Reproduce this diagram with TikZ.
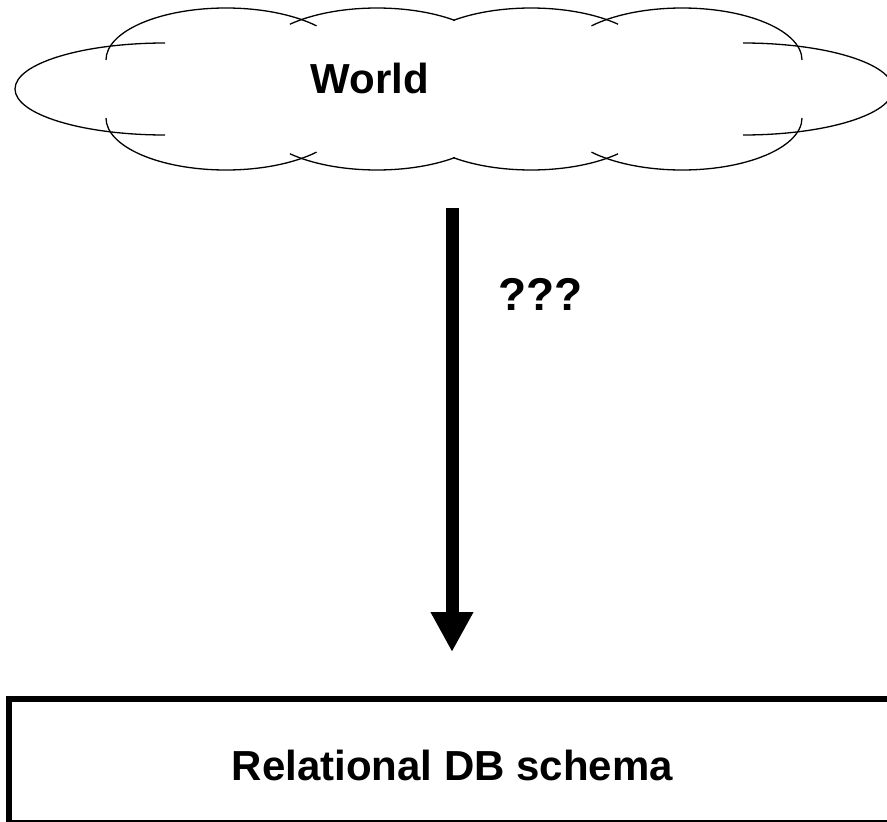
\documentclass[tikz,border=0pt]{standalone}
\usepackage{fontspec}
\setmainfont{Liberation Sans}
\usetikzlibrary{arrows.meta}

\begin{document}
\begin{tikzpicture}[x=1pt,y=1pt,
    cloudline/.style={draw=black,line width=1.3pt},
    bigtext/.style={font=\fontsize{42}{48}\selectfont\bfseries,inner sep=0pt},
    schemabox/.style={draw=black,line width=6pt,inner sep=0pt,minimum width=888pt,text height=81.5pt,text depth=43pt},
    bigarrow/.style={line width=13pt,-{Triangle[length=40pt,width=40pt]}}]
        \useasboundingbox (0,0) rectangle (887,-822);
        \clip (0,0) rectangle (887,-822);

        % Cloud round the world
        \path[cloudline] (165,-43) arc[start angle=90,end angle=270,x radius=150,y radius=46];
        \path[cloudline] (743,-135) arc[start angle=-90,end angle=90,x radius=150,y radius=46];
        \path[cloudline] (106,-60) arc[start angle=180,end angle=41,x radius=120,y radius=52];
        \path[cloudline] (377,-60) ++(136.5:120 and 52) arc[start angle=136.5,end angle=49.5,x radius=120,y radius=52];
        \path[cloudline] (531,-60) ++(130.5:120 and 52) arc[start angle=130.5,end angle=43.5,x radius=120,y radius=52];
        \path[cloudline] (682,-60) ++(139:120 and 52) arc[start angle=139,end angle=0,x radius=120,y radius=52];
        \path[cloudline] (106,-118) arc[start angle=180,end angle=319,x radius=120,y radius=52];
        \path[cloudline] (377,-118) ++(223.5:120 and 52) arc[start angle=223.5,end angle=310.5,x radius=120,y radius=52];
        \path[cloudline] (531,-118) ++(229.5:120 and 52) arc[start angle=229.5,end angle=316.5,x radius=120,y radius=52];
        \path[cloudline] (682,-118) ++(221:120 and 52) arc[start angle=221,end angle=360,x radius=120,y radius=52];

        % Texts
        \node[bigtext,anchor=base] (world) at (370,-93.5) {World};
        \node[schemabox,bigtext,anchor=base] (schema) at (452.5,-780) {Relational DB schema};

        % Arrow from the world to the schema
        \coordinate (arrowstart) at (452,-208);
        \draw[bigarrow,shorten >=43.5pt] (arrowstart) -- (arrowstart |- schema.north)
            node[bigtext,font=\fontsize{46}{52}\selectfont\bfseries,pos=0.177,right=40pt] (question) {???};
\end{tikzpicture}
\end{document}
